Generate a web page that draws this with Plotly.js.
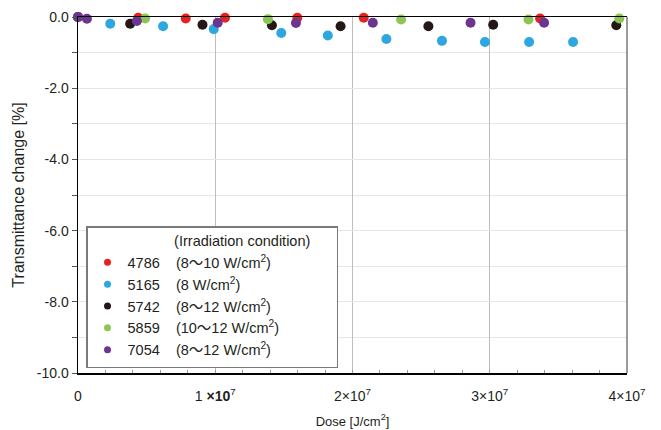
<!DOCTYPE html>
<html>
<head>
<meta charset="utf-8">
<script src="https://cdn.plot.ly/plotly-3.0.1.min.js"></script>
<style>html,body{margin:0;padding:0;background:#fff;}#chart{width:661px;height:430px;}</style>
</head>
<body>
<div id="chart"></div>
<script>
// Series names and irradiation conditions
const seriesNames = ["4786", "5165", "5742", "5859", "7054"];
const conditions = ["(8～10 W/cm<sup>2</sup>)", "(8 W/cm<sup>2</sup>)", "(8～12 W/cm<sup>2</sup>)", "(10～12 W/cm<sup>2</sup>)", "(8～12 W/cm<sup>2</sup>)"];
const colors = ["#e8221f", "#2ea7e0", "#231815", "#8cc652", "#6b3590"];

// Dose [J/cm2] and transmittance change [%]
const x4786 = [0, 4.39e6, 7.85e6, 10.71e6, 15.98e6, 20.82e6, 33.67e6];
const y4786 = [0, -0.02, -0.04, -0.02, -0.02, -0.02, -0.04];
const x5165 = [0, 2.35e6, 6.20e6, 9.89e6, 14.81e6, 18.20e6, 22.47e6, 26.52e6, 29.65e6, 32.87e6, 36.07e6];
const y5165 = [0, -0.19, -0.26, -0.34, -0.45, -0.52, -0.62, -0.67, -0.70, -0.70, -0.70];
const x5742 = [0, 3.80e6, 9.07e6, 14.13e6, 19.13e6, 25.53e6, 30.25e6, 39.22e6];
const y5742 = [0, -0.19, -0.22, -0.23, -0.26, -0.26, -0.22, -0.23];
const x5859 = [0, 4.89e6, 13.84e6, 23.54e6, 32.82e6, 39.44e6];
const y5859 = [0, -0.04, -0.06, -0.07, -0.07, -0.04];
const x7054 = [0, 0.65e6, 4.29e6, 10.18e6, 15.88e6, 21.48e6, 28.60e6, 33.96e6];
const y7054 = [0, -0.05, -0.11, -0.16, -0.17, -0.16, -0.16, -0.16];

// Axis ticks
const xTickVals = [0, 1e7, 2e7, 3e7, 4e7];
const xTickText = ["0", "1 <b>×10</b><sup>7</sup>", "2×10<sup>7</sup>", "3×10<sup>7</sup>", "4×10<sup>7</sup>"];
const yTickVals = [0, -2, -4, -6, -8, -10];
const yTickText = ["0.0", "-2.0", "-4.0", "-6.0", "-8.0", "-10.0"];

const xs = [x4786, x5165, x5742, x5859, x7054];
const ys = [y4786, y5165, y5742, y5859, y7054];

const FONT = '"Liberation Sans", Arial, "Noto Sans CJK JP", sans-serif';
const NB = "\u00a0";

const traces = [];
seriesNames.forEach((n, i) => {
  traces.push({
    type: "scatter", mode: "markers", x: xs[i], y: ys[i],
    marker: {color: colors[i], size: 10},
    showlegend: false, cliponaxis: false, hoverinfo: "skip"
  });
});
seriesNames.forEach((n, i) => {
  traces.push({
    type: "scatter", mode: "markers", x: [null], y: [null],
    marker: {color: colors[i], size: 7},
    name: n + NB.repeat(4) + conditions[i], showlegend: true
  });
});

const layout = {
  width: 661, height: 430,
  margin: {l: 78, r: 34, t: 17, b: 57},
  paper_bgcolor: "#fff", plot_bgcolor: "#fff",
  font: {family: FONT, size: 14, color: "#231f20"},
  showlegend: true,
  legend: {
    x: 0.0146, y: 0.014, xanchor: "left", yanchor: "bottom",
    bgcolor: "#fff", bordercolor: "#7a7a7a", borderwidth: 1.5,
    font: {family: FONT, size: 14.5, color: "#231f20"},
    title: {text: NB.repeat(21) + "(Irradiation condition)" + NB.repeat(6), font: {family: FONT, size: 14.5, color: "#231f20"}},
    traceorder: "normal"
  },
  xaxis: {
    range: [0, 4e7], tickmode: "array", tickvals: xTickVals, ticktext: xTickText,
    showgrid: true, gridcolor: "#bdbdbd", gridwidth: 1,
    showline: true, linecolor: "#000", linewidth: 1.5, mirror: true,
    ticks: "inside", ticklen: 3, tickcolor: "#9a9a9a",
    minor: {dtick: 2e6, ticks: "inside", ticklen: 3, tickcolor: "#9a9a9a", showgrid: false},
    ticklabelstandoff: 10,
    tickfont: {size: 14},
    zeroline: false,
    title: {text: "Dose [J/cm<sup>2</sup>]", font: {size: 13}, standoff: 13}
  },
  yaxis: {
    range: [-10, 0], tickmode: "array", tickvals: yTickVals, ticktext: yTickText,
    showgrid: true, gridcolor: "#e6e6e6", gridwidth: 1,
    showline: true, linecolor: "#000", linewidth: 1.5,
    ticks: "outside", ticklen: 5, tickcolor: "#555",
    minor: {dtick: 1, ticks: "outside", ticklen: 5, tickcolor: "#555", showgrid: true, gridcolor: "#e6e6e6"},
    tickfont: {size: 14},
    zeroline: false,
    title: {text: "Transmittance change [%]", font: {size: 16}, standoff: 8}
  },
  shapes: [
    {type: "line", xref: "paper", yref: "paper", x0: 1, x1: 1, y0: 0, y1: 1, line: {color: "#7a7a7a", width: 1.5}, layer: "above"}
  ]
};

Plotly.newPlot("chart", traces, layout, {staticPlot: true, displayModeBar: false});
</script>
</body>
</html>
